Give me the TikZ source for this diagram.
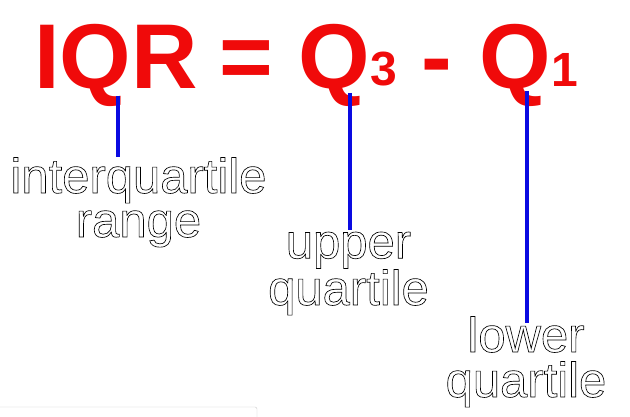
\documentclass[tikz,border=0pt]{standalone}
\usepackage{fontspec}
\setmainfont{Liberation Sans}
\definecolor{titlered}{RGB}{240,10,10}
\definecolor{lineblue}{RGB}{10,10,225}
\tikzset{
  title/.style={inner sep=0pt, text=titlered, font=\fontsize{92}{92}\selectfont\bfseries},
  sub/.style={inner sep=0pt, text=titlered, font=\fontsize{48}{48}\selectfont\bfseries},
  lbl/.style={inner sep=0pt, anchor=base, align=center, font=\fontsize{49}{44}\selectfont},
  conn/.style={lineblue, line width=4pt}
}
\newcommand{\outl}[1]{\special{pdf:literal direct 1 Tr 0.65 w}#1\special{pdf:literal direct 0 Tr 0.4 w}}
\begin{document}
\begin{tikzpicture}[x=1pt,y=-1pt]
\useasboundingbox (0,0) rectangle (630,417);
\fill[white] (0,0) rectangle (630,417);
% title
\node[title, anchor=base west] (iqr) at (34,89) {IQR};
\node[title, anchor=base] (eq) at (246.5,89) {=};
\node[title, anchor=base west] (q3) at (298,89) {Q};
\node[sub, anchor=base west] (s3) at (370,86) {3};
\node[title, anchor=base] (minus) at (437,89) {-};
\node[title, anchor=base west] (q1) at (479,89) {Q};
\node[sub, anchor=base west] (s1) at (551,87) {1};
% connectors
\coordinate (c1) at (118,96);
\coordinate (e1) at (118,157);
\coordinate (c2) at (350,93);
\coordinate (e2) at (350,230);
\coordinate (c3) at (527,91);
\coordinate (e3) at (527,323);
\draw[conn] (c1) -- (e1);
\draw[conn] (c2) -- (e2);
\draw[conn] (c3) -- (e3);
% bottom fragment
\draw[black!20, rounded corners=2pt] (-5,430) -- (-5,407) -- (257,407) -- (257,430);
% labels (base anchor = baseline of the last line)
\node[lbl] (l1) at (138.5,237) {\outl{interquartile}\\\outl{range}};
\node[lbl] (l2) at (348.5,305) {\outl{upper}\\\outl{quartile}};
\node[lbl, font=\fontsize{49}{45}\selectfont] (l3) at (526,397) {\outl{lower}\\\outl{quartile}};
\end{tikzpicture}
\end{document}
